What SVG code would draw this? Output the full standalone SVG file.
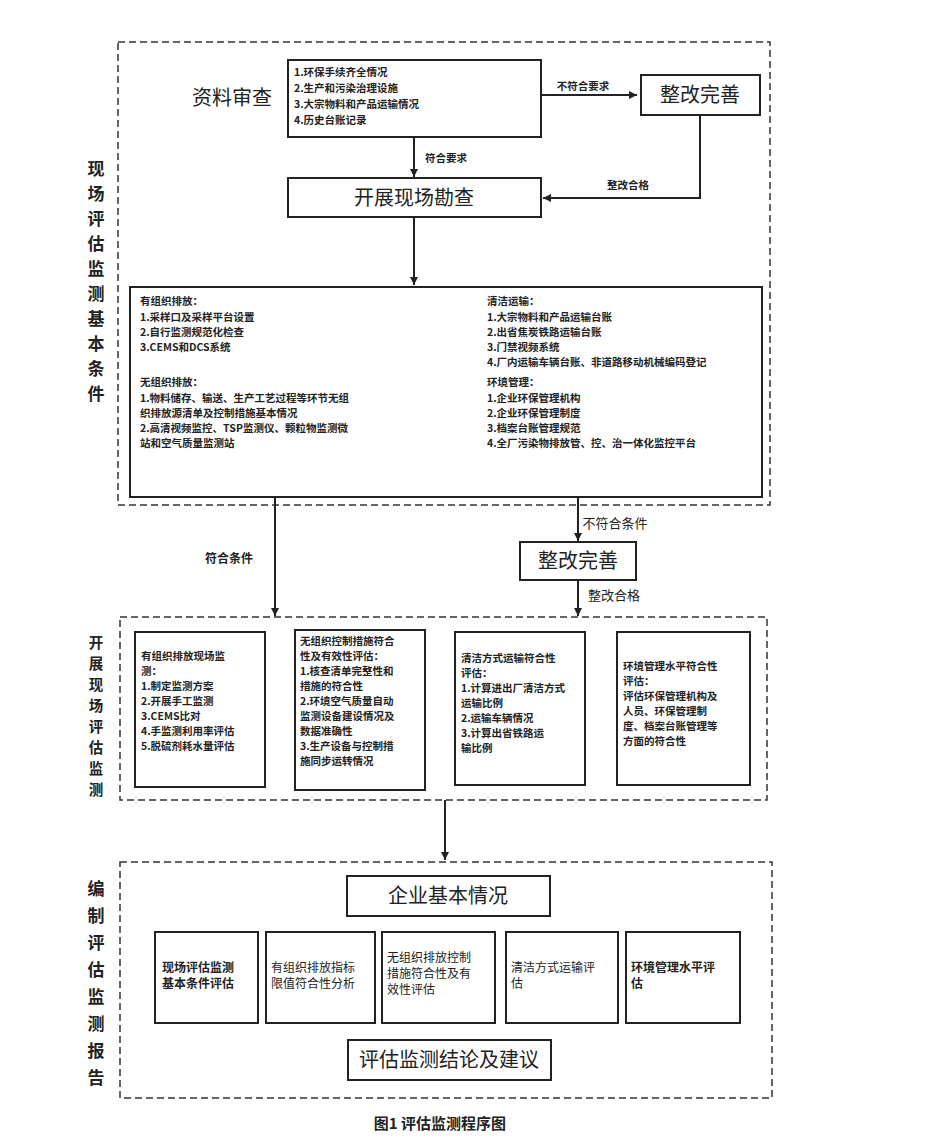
<svg xmlns="http://www.w3.org/2000/svg" width="950" height="1142" viewBox="0 0 950 1142">
<defs>
<marker id="ah" viewBox="0 0 10 10" refX="10" refY="5" markerWidth="10" markerHeight="8" orient="auto" markerUnits="userSpaceOnUse"><path d="M0,0 L10,5 L0,10 z" fill="#222"/></marker>
</defs>
<style>
text{font-family:"Noto Sans CJK SC","Liberation Serif",serif;fill:#222}
.dash{fill:none;stroke:#333;stroke-width:1.5;stroke-dasharray:7,4}
.box{fill:#fff;stroke:#222;stroke-width:2}
.big{font-size:20px}
.s{font-size:10.5px;font-weight:bold}
.m{font-size:12px}
.lab{font-size:17px;font-weight:bold}
.lab2{font-size:14.5px;font-weight:bold}
.ln{stroke:#222;stroke-width:2;fill:none}
</style>
<rect width="950" height="1142" fill="#fff"/>
<g id="frames">
<rect class="dash" x="118" y="42" width="652" height="463"/>
<rect class="dash" x="120" y="617" width="647" height="183"/>
<rect class="dash" x="120" y="862" width="652" height="236"/>
</g>
<g id="side-labels">
<text class="lab" text-anchor="middle"><tspan x="96" y="175">现</tspan><tspan x="96" y="200">场</tspan><tspan x="96" y="225">评</tspan><tspan x="96" y="250">估</tspan><tspan x="96" y="275">监</tspan><tspan x="96" y="300">测</tspan><tspan x="96" y="325">基</tspan><tspan x="96" y="350">本</tspan><tspan x="96" y="375">条</tspan><tspan x="96" y="400">件</tspan></text>
<text class="lab2" text-anchor="middle"><tspan x="96" y="648">开</tspan><tspan x="96" y="669">展</tspan><tspan x="96" y="690">现</tspan><tspan x="96" y="711">场</tspan><tspan x="96" y="732">评</tspan><tspan x="96" y="753">估</tspan><tspan x="96" y="774">监</tspan><tspan x="96" y="795">测</tspan></text>
<text class="lab" text-anchor="middle"><tspan x="96" y="895">编</tspan><tspan x="96" y="922">制</tspan><tspan x="96" y="949">评</tspan><tspan x="96" y="976">估</tspan><tspan x="96" y="1003">监</tspan><tspan x="96" y="1030">测</tspan><tspan x="96" y="1057">报</tspan><tspan x="96" y="1084">告</tspan></text>
</g>
<g id="n-review"><text class="big" x="232" y="105" text-anchor="middle">资料审查</text>
<rect class="box" x="288" y="60" width="253" height="77"/>
<text class="s"><tspan x="294" y="76">1.环保手续齐全情况</tspan><tspan x="294" y="92">2.生产和污染治理设施</tspan><tspan x="294" y="108">3.大宗物料和产品运输情况</tspan><tspan x="294" y="124">4.历史台账记录</tspan></text></g>
<g id="n-fix1"><rect class="box" x="641" y="75" width="119" height="40"/><text class="big" x="700" y="102" text-anchor="middle">整改完善</text></g>
<g id="n-survey"><rect class="box" x="288" y="178" width="253" height="39"/><text class="big" x="414" y="205" text-anchor="middle">开展现场勘查</text></g>
<g id="n-cond"><rect class="box" x="130" y="287" width="632" height="210"/>
<text class="s"><tspan x="140" y="305">有组织排放：</tspan><tspan x="140" y="321">1.采样口及采样平台设置</tspan><tspan x="140" y="336">2.自行监测规范化检查</tspan><tspan x="140" y="351">3.CEMS和DCS系统</tspan>
<tspan x="140" y="386">无组织排放：</tspan><tspan x="140" y="402">1.物料储存、输送、生产工艺过程等环节无组</tspan><tspan x="140" y="417">织排放源清单及控制措施基本情况</tspan><tspan x="140" y="432">2.高清视频监控、TSP监测仪、颗粒物监测微</tspan><tspan x="140" y="447">站和空气质量监测站</tspan></text>
<text class="s"><tspan x="487" y="305">清洁运输：</tspan><tspan x="487" y="321">1.大宗物料和产品运输台账</tspan><tspan x="487" y="336">2.出省焦炭铁路运输台账</tspan><tspan x="487" y="351">3.门禁视频系统</tspan><tspan x="487" y="366">4.厂内运输车辆台账、非道路移动机械编码登记</tspan>
<tspan x="487" y="386">环境管理：</tspan><tspan x="487" y="402">1.企业环保管理机构</tspan><tspan x="487" y="417">2.企业环保管理制度</tspan><tspan x="487" y="432">3.档案台账管理规范</tspan><tspan x="487" y="447">4.全厂污染物排放管、控、治一体化监控平台</tspan></text></g>
<g id="n-fix2"><rect class="box" x="520" y="542" width="116" height="38"/><text class="big" x="578" y="568" text-anchor="middle">整改完善</text></g>
<g id="n-m1"><rect class="box" x="135" y="632" width="130" height="155"/><text class="s"><tspan x="141" y="660">有组织排放现场监</tspan><tspan x="141" y="675">测：</tspan><tspan x="141" y="690">1.制定监测方案</tspan><tspan x="141" y="705">2.开展手工监测</tspan><tspan x="141" y="720">3.CEMS比对</tspan><tspan x="141" y="735">4.手监测利用率评估</tspan><tspan x="141" y="750">5.脱硫剂耗水量评估</tspan></text></g>
<g id="n-m2"><rect class="box" x="295" y="630" width="130" height="160"/><text class="s"><tspan x="300" y="645">无组织控制措施符合</tspan><tspan x="300" y="660">性及有效性评估：</tspan><tspan x="300" y="675">1.核查清单完整性和</tspan><tspan x="300" y="690">措施的符合性</tspan><tspan x="300" y="705">2.环境空气质量自动</tspan><tspan x="300" y="720">监测设备建设情况及</tspan><tspan x="300" y="735">数据准确性</tspan><tspan x="300" y="750">3.生产设备与控制措</tspan><tspan x="300" y="765">施同步运转情况</tspan></text></g>
<g id="n-m3"><rect class="box" x="455" y="632" width="130" height="153"/><text class="s"><tspan x="461" y="662">清洁方式运输符合性</tspan><tspan x="461" y="677">评估：</tspan><tspan x="461" y="692">1.计算进出厂清洁方式</tspan><tspan x="461" y="707">运输比例</tspan><tspan x="461" y="722">2.运输车辆情况</tspan><tspan x="461" y="737">3.计算出省铁路运</tspan><tspan x="461" y="752">输比例</tspan></text></g>
<g id="n-m4"><rect class="box" x="617" y="632" width="133" height="153"/><text class="s"><tspan x="623" y="670">环境管理水平符合性</tspan><tspan x="623" y="685">评估：</tspan><tspan x="623" y="700">评估环保管理机构及</tspan><tspan x="623" y="715">人员、环保管理制</tspan><tspan x="623" y="730">度、档案台账管理等</tspan><tspan x="623" y="745">方面的符合性</tspan></text></g>
<g id="n-basic"><rect class="box" x="347" y="876" width="203" height="40"/><text class="big" x="448" y="903" text-anchor="middle">企业基本情况</text></g>
<g id="n-r1"><rect class="box" x="155" y="932" width="103" height="91"/><text class="m" font-weight="bold"><tspan x="162" y="972">现场评估监测</tspan><tspan x="162" y="988">基本条件评估</tspan></text></g>
<g id="n-r2"><rect class="box" x="266" y="932" width="109" height="91"/><text class="m"><tspan x="271" y="972">有组织排放指标</tspan><tspan x="271" y="988">限值符合性分析</tspan></text></g>
<g id="n-r3"><rect class="box" x="382" y="932" width="113" height="91"/><text class="m"><tspan x="387" y="962">无组织排放控制</tspan><tspan x="387" y="978">措施符合性及有</tspan><tspan x="387" y="994">效性评估</tspan></text></g>
<g id="n-r4"><rect class="box" x="506" y="932" width="112" height="91"/><text class="m"><tspan x="511" y="972">清洁方式运输评</tspan><tspan x="511" y="988">估</tspan></text></g>
<g id="n-r5"><rect class="box" x="626" y="932" width="114" height="91"/><text class="m" font-weight="bold"><tspan x="631" y="972">环境管理水平评</tspan><tspan x="631" y="988">估</tspan></text></g>
<g id="n-concl"><rect class="box" x="348" y="1040" width="203" height="40"/><text class="big" x="449" y="1067" text-anchor="middle">评估监测结论及建议</text></g>
<g id="connectors">
<line class="ln" x1="541" y1="95" x2="637" y2="95" marker-end="url(#ah)"/>
<polyline class="ln" points="700,115 700,198 543,198" marker-end="url(#ah)"/>
<line class="ln" x1="414" y1="137" x2="414" y2="177" marker-end="url(#ah)"/>
<line class="ln" x1="414" y1="217" x2="414" y2="285" marker-end="url(#ah)"/>
<line class="ln" x1="275" y1="497" x2="275" y2="616" marker-end="url(#ah)"/>
<line class="ln" x1="578" y1="497" x2="578" y2="541" marker-end="url(#ah)"/>
<line class="ln" x1="578" y1="580" x2="578" y2="616" marker-end="url(#ah)"/>
<line class="ln" x1="445" y1="800" x2="445" y2="860" marker-end="url(#ah)"/>
</g>
<g id="edge-labels">
<text class="s" x="583" y="90" text-anchor="middle">不符合要求</text>
<text class="s" x="628" y="189" text-anchor="middle">整改合格</text>
<text class="s" x="446" y="162" text-anchor="middle">符合要求</text>
<text x="229" y="563" text-anchor="middle" font-size="12" font-weight="bold">符合条件</text>
<text x="615" y="528" text-anchor="middle" font-size="13">不符合条件</text>
<text x="614" y="600" text-anchor="middle" font-size="13">整改合格</text>
</g>
<text x="440" y="1129" text-anchor="middle" font-size="15" font-weight="bold">图1  评估监测程序图</text>
</svg>
